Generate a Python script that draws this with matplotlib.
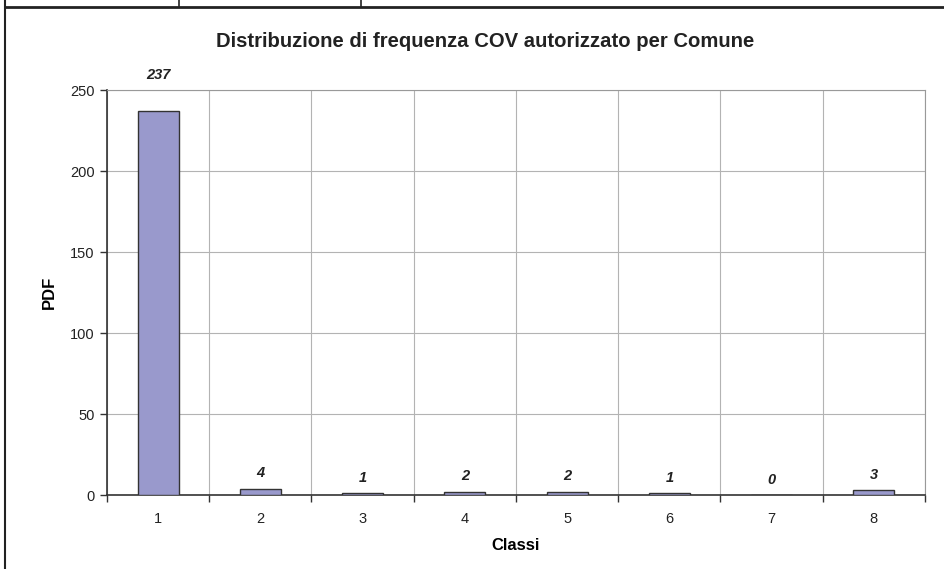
import matplotlib
matplotlib.use("Agg")
import matplotlib.pyplot as plt
from matplotlib.lines import Line2D

plt.rcParams['font.family'] = ['Liberation Sans', 'DejaVu Sans']

classi = [1, 2, 3, 4, 5, 6, 7, 8]
pdf = [237, 4, 1, 2, 2, 1, 0, 3]
yticks = [0, 50, 100, 150, 200, 250]

fig = plt.figure(figsize=(9.45, 5.69), dpi=100)
ax = fig.add_axes([0.1132, 0.130, 0.8656, 0.7118])

ax.bar(classi, pdf, width=0.4, color='#9999cc', edgecolor='#333333', linewidth=1.0, zorder=3)

# value labels; the tallest one sits above the plot frame
for x, v in zip(classi, pdf):
    off = 21 if v == max(pdf) else 6
    ax.annotate(str(v), (x, v), xytext=(0, off), textcoords='offset points',
                ha='center', va='bottom', fontsize=10.5, fontweight='bold', fontstyle='italic',
                color='#222222', annotation_clip=False)

ax.set_xlim(0.5, 8.5)
ax.set_ylim(0, 250)
ax.set_yticks(yticks)
ax.set_xticks(classi)
ax.set_xticks([c + 0.5 for c in classi[:-1]] + [0.5, 8.5], minor=True)

ax.grid(True, which='minor', axis='x', color='#b3b3b3', linewidth=0.8, zorder=0)
ax.grid(True, which='major', axis='y', color='#b3b3b3', linewidth=0.8, zorder=0)
ax.tick_params(axis='x', which='major', length=0, pad=12, labelsize=10.5, colors='#222222')
ax.tick_params(axis='x', which='minor', length=5, width=1, color='#333333')
ax.tick_params(axis='y', length=5, width=1, pad=4, labelsize=10.5, color='#333333', labelcolor='#222222')

for side in ['top', 'right']:
    ax.spines[side].set_color('#999999')
    ax.spines[side].set_linewidth(0.8)
for side in ['left', 'bottom']:
    ax.spines[side].set_color('#333333')
    ax.spines[side].set_linewidth(1.2)

ax.set_xlabel('Classi', fontsize=12, fontweight='bold', labelpad=9)
ax.set_ylabel('PDF', fontsize=12, fontweight='bold', labelpad=9)
fig.text(0.5132, 0.927, 'Distribuzione di frequenza COV autorizzato per Comune',
         ha='center', va='center', fontsize=14.6, fontweight='bold', color='#222222')

# table borders around the chart
fig.add_artist(Line2D([5/945, 1], [1 - 7/569] * 2, color='#222222', linewidth=2))
fig.add_artist(Line2D([5/945] * 2, [0, 1], color='#222222', linewidth=1.5))
for xp in [179, 361]:
    fig.add_artist(Line2D([xp/945] * 2, [1 - 7/569, 1], color='#222222', linewidth=1.2))

fig.savefig('out.png', dpi=100)
